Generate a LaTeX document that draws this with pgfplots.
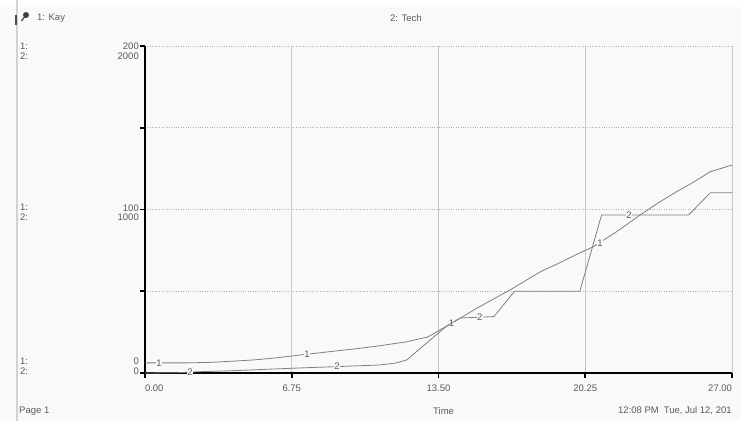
\documentclass[border=0pt]{standalone}
\usepackage{pgfplots}
\pgfplotsset{compat=1.18}
\usepackage{fontspec}
\setmainfont{Liberation Sans}
\definecolor{bg}{RGB}{249,249,249}
\definecolor{txt}{RGB}{90,90,90}
\definecolor{curve}{RGB}{128,128,128}
\definecolor{vgrid}{RGB}{200,200,200}
\newcommand{\fs}{\fontsize{9.5bp}{11bp}\selectfont}

\pgfplotstableread{
t v
0 6.2
2 6.2
3 6.5
4 7.2
5 8.0
6 9.2
7 10.8
8 12.3
9 13.8
10 15.3
10.8 16.7
12.0 19.0
13.0 22.0
13.5 25.8
14.1 30.4
15.26 39.6
16.79 50.8
18.2 62.0
19.09 67.5
20.0 73.5
20.62 77.2
21.7 86.5
22.77 96.6
23.6 104.0
24.45 110.9
25.2 116.5
26.0 123.1
27 127.2
}\kay

\pgfplotstableread{
t v
0 0
1.5 2
2.5 8
4 14
6.75 29
9 40
10.8 49
11.5 60
12.04 80
13.9 290
14.5 336
16.05 345
17.0 500
20.0 500
21.0 966
25.0 966
26.0 1102
27.0 1102
}\tech

\begin{document}
\fs
\begin{tikzpicture}
\begin{scope}[x=1bp,y=1bp]
\fill[bg] (0,0) rectangle (741,414);
\fill[white] (0,414) rectangle (741,421);
\fill[gray!35] (15.5,0) rectangle (18,421);
\fill[black!70] (14.5,396) rectangle (16.5,406);
\end{scope}

\begin{axis}[
  at={(145bp,48bp)}, anchor=south west,
  scale only axis, width=587bp, height=327bp,
  xmin=0, xmax=27, ymin=0, ymax=200,
  axis x line=bottom, axis y line=left,
  axis line style={-, line width=2bp, black},
  xtick={0,6.75,13.5,20.25,27},
  xticklabels={\rlap{0.00},6.75,13.50,20.25,\llap{27.00}},
  ytick={0,50,100,150,200},
  yticklabels={},
  tick align=outside,
  major tick length=5bp,
  every tick/.style={black, line width=1.6bp},
  xticklabel style={font=\fs, text=txt, yshift=-4bp},
  xmajorgrids, ymajorgrids,
  x grid style={vgrid, line width=0.8bp},
  y grid style={gray!60, dotted, line width=0.6bp},
  clip=false,
]
\addplot[curve, line width=0.8bp] table[x=t,y=v] {\kay};
\foreach \xx/\yy in {0.65/6.2, 7.45/11.3, 14.1/30.4, 20.93/79.5} {
  \edef\tmp{\noexpand\node[fill=bg, inner sep=0.4bp, text=txt, font=\noexpand\fs] at (axis cs:\xx,\yy) {1};}
  \tmp
}
\end{axis}

\begin{axis}[
  at={(145bp,48bp)}, anchor=south west,
  scale only axis, width=587bp, height=327bp,
  xmin=0, xmax=27, ymin=0, ymax=2000,
  hide axis, clip=false,
]
\addplot[curve, line width=0.8bp] table[x=t,y=v] {\tech};
\foreach \xx/\yy in {2.07/8, 8.83/39, 15.4/342, 22.26/966} {
  \edef\tmp{\noexpand\node[fill=bg, inner sep=0.4bp, text=txt, font=\noexpand\fs] at (axis cs:\xx,\yy) {2};}
  \tmp
}
\end{axis}

\begin{scope}[x=1bp,y=1bp,every node/.style={text=txt, inner sep=0pt}]
\node[anchor=west] at (37,403) {1: Kay};
\node[anchor=west] at (390,403) {2: Tech};
\foreach \yy in {375,214,60} {
  \node[anchor=west] at (20,\yy) {1:};
  \node[anchor=west] at (20,\yy-10) {2:};
}
\node[anchor=east] at (139,375) {200};
\node[anchor=east] at (139,365) {2000};
\node[anchor=east] at (139,213) {100};
\node[anchor=east] at (139,204) {1000};
\node[anchor=east] at (139,60) {0};
\node[anchor=east] at (139,50) {0};
\node[anchor=west] at (19,10) {Page 1};
\node[anchor=west] at (433,10) {Time};
\node[anchor=west] at (618,10) {12:08 PM\hspace{5bp}Tue, Jul 12, 201};
\fill[black!75] (26,406) circle (3);
\draw[black!75, line width=1.2bp] (24.5,404) -- (21.5,400);
\end{scope}
\pgfresetboundingbox
\path[use as bounding box] (0,0) rectangle (741bp,421bp);
\end{tikzpicture}
\end{document}
